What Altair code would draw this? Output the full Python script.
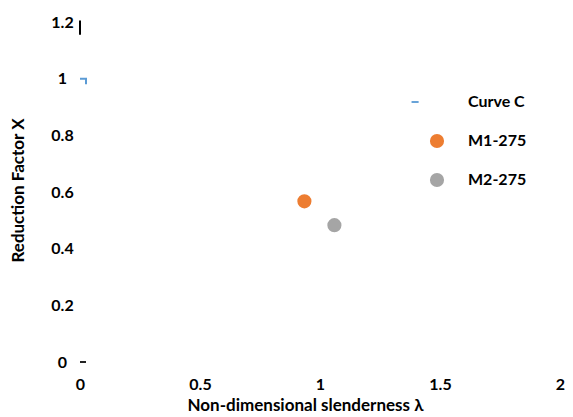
import altair as alt
import pandas as pd

# Data
series_names = ["Curve C", "M1-275", "M2-275"]
series_colors = ["#5B9BD5", "#ED7D31", "#A5A5A5"]

curve_x = [0.0, 0.025, 0.025]
curve_y = [1.0, 1.0, 0.98]

test_series = ["M1-275", "M2-275"]
test_x = [0.935, 1.06]
test_y = [0.567, 0.483]

x_ticks = [0, 0.5, 1, 1.5, 2]
y_ticks = [0, 0.2, 0.4, 0.6, 0.8, 1, 1.2]

# small artefacts near the origin
dash_x = [0.0]
dash_x2 = [0.025]
dash_y = [0.0]
brk_x = [0.0]
brk_y = [1.155]
brk_y2 = [1.205]

FONT = "Lato"
FS = 16
TFS = 17

curve_df = pd.DataFrame({"x": curve_x, "y": curve_y, "series": "Curve C", "i": range(len(curve_x))})
test_df = pd.DataFrame({"x": test_x, "y": test_y, "series": test_series})
dash_df = pd.DataFrame({"x": dash_x, "x2": dash_x2, "y": dash_y})
brk_df = pd.DataFrame({"x": brk_x, "y": brk_y, "y2": brk_y2})

color_scale = alt.Scale(domain=series_names, range=series_colors)
shape_scale = alt.Scale(
    domain=series_names,
    range=["M-3.6,-0.13H-2.6V0.13H-3.6Z", "circle", "circle"],
)

legend = alt.Legend(
    title=None, orient="none", legendX=349, legendY=72,
    labelFont=FONT, labelFontSize=FS, labelFontWeight="bold", labelColor="#000000",
    symbolSize=200, symbolStrokeWidth=0, rowPadding=23, labelOffset=23,
    values=series_names, symbolOpacity=1,
)

x_enc = alt.X(
    "x:Q",
    scale=alt.Scale(domain=[0, 2], nice=False),
    axis=alt.Axis(
        values=x_ticks, format="~g", title="Non-dimensional slenderness λ", grid=False, domain=False,
        ticks=False, tickSize=0, labelPadding=14, labelFontSize=FS, labelFont=FONT,
        labelFontWeight="bold", labelColor="#000000", titleFont=FONT, titleFontSize=TFS,
        titleFontWeight="bold", titleColor="#000000", titleX=225, titleY=43,
        titleBaseline="middle", titleAnchor="middle", labelFlush=False,
    ),
)
y_enc = alt.Y(
    "y:Q",
    scale=alt.Scale(domain=[0, 1.2], nice=False),
    axis=alt.Axis(
        values=y_ticks, format="~g", title="Reduction Factor X", grid=False, domain=False,
        ticks=False, tickSize=0, labelPadding=18, labelAlign="center",
        labelFontSize=FS, labelFont=FONT, labelFontWeight="bold", labelColor="#000000",
        titleFont=FONT, titleFontSize=TFS, titleFontWeight="bold", titleColor="#000000",
        titleX=-62, titleY=168, titleAngle=-90, titleBaseline="middle", labelFlush=False,
    ),
)

line = alt.Chart(curve_df).mark_line(strokeWidth=2).encode(
    x=x_enc, y=y_enc, order="i:Q",
    color=alt.Color("series:N", scale=color_scale, legend=legend),
)

points = alt.Chart(test_df).mark_point(filled=True, size=200, opacity=1).encode(
    x="x:Q", y="y:Q",
    color=alt.Color("series:N", scale=color_scale, legend=legend),
    shape=alt.Shape("series:N", scale=shape_scale, legend=legend),
)

dash = alt.Chart(dash_df).mark_rule(color="#222222", strokeWidth=2).encode(
    x="x:Q", x2="x2:Q", y="y:Q"
)
brk = alt.Chart(brk_df).mark_rule(color="#000000", strokeWidth=2).encode(
    x="x:Q", y="y:Q", y2="y2:Q"
)

chart = (
    alt.layer(line, dash, brk, points)
    .properties(
        width=480, height=340,
        autosize=alt.AutoSizeParams(type="none"),
        padding={"left": 72, "top": 14, "right": 5, "bottom": 55},
        background="white",
    )
    .configure_view(stroke=None)
)

chart.save("out.html", embed_options={"renderer": "svg", "actions": False})
